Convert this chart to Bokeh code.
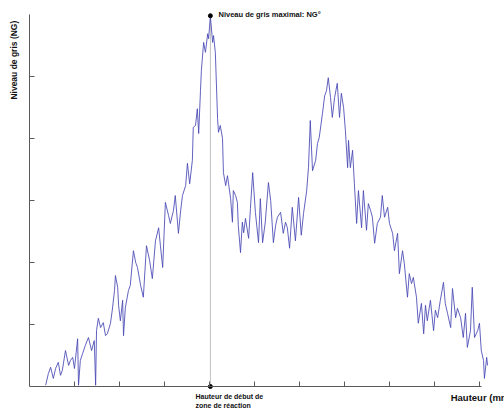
from bokeh.plotting import figure
from bokeh.models import Label, FixedTicker, Range1d
from bokeh.embed import file_html
from bokeh.resources import INLINE

# Height (mm, arbitrary scale) and grey level (NG, arbitrary scale)
hauteur = [3.6, 4.2, 4.7, 5.3, 5.8, 6.4, 6.9, 7.3, 8.0, 8.7, 9.1, 9.6, 10.0, 10.7, 10.9, 11.3, 11.8, 12.4, 13.1, 13.8,
           14.4, 14.7, 14.9, 15.3, 15.8, 16.4, 16.9, 17.3, 18.0, 18.4, 18.9, 19.1, 19.6, 19.8, 20.2, 20.7, 20.9, 21.3, 22.0, 22.4,
           23.1, 23.6, 24.0, 24.7, 25.3, 26.0, 26.7, 27.3, 28.0, 28.7, 29.1, 29.6, 30.2, 30.9, 31.3, 32.0, 32.4, 33.1, 33.6, 34.0,
           34.7, 35.1, 35.6, 36.2, 36.4, 36.9, 37.3, 37.6, 38.0, 38.2, 38.7, 39.1, 39.6, 39.8, 40.2, 40.7, 40.9, 41.3, 41.8, 42.0,
           42.4, 42.9, 43.1, 43.6, 44.0, 44.7, 45.1, 45.3, 45.8, 46.2, 46.4, 46.9, 47.3, 47.6, 48.0, 48.7, 49.1, 49.6, 50.2, 50.9,
           51.3, 51.8, 52.4, 53.1, 53.6, 54.2, 54.7, 55.1, 55.8, 56.4, 56.9, 57.3, 57.8, 58.4, 59.1, 59.8, 60.4, 60.9, 61.6, 62.0,
           62.4, 62.9, 63.6, 64.0, 64.4, 65.1, 65.6, 66.0, 66.4, 66.9, 67.3, 67.8, 68.4, 68.9, 69.3, 69.8, 70.2, 70.7, 70.9, 71.3,
           71.8, 72.2, 72.7, 73.1, 73.8, 74.2, 74.9, 75.3, 75.8, 76.2, 76.7, 77.3, 78.0, 78.4, 78.9, 79.6, 80.0, 80.7, 81.1, 81.8,
           82.2, 82.9, 83.3, 84.0, 84.4, 84.9, 85.3, 86.0, 86.4, 87.1, 87.6, 88.0, 88.4, 89.1, 89.8, 90.2, 90.7, 91.3, 92.0, 92.4,
           92.9, 93.6, 94.0, 94.7, 95.1, 95.8, 96.4, 96.9, 97.3, 98.0, 98.4, 98.9, 99.6, 100.0, 100.4, 100.9, 101.1, 101.6, 101.8]
niveau_gris = [2, 21, 31, 13, 29, 39, 18, 26, 58, 34, 42, 47, 29, 77, 2, 42, 53, 66, 79, 58,
               74, 2, 90, 110, 95, 103, 82, 85, 102, 123, 155, 179, 160, 131, 106, 139, 82, 127, 155, 163,
               219, 200, 192, 163, 144, 227, 203, 174, 235, 256, 227, 192, 297, 276, 263, 284, 308, 247, 284, 308,
               324, 360, 327, 365, 418, 421, 448, 408, 477, 510, 555, 539, 569, 561, 597, 555, 566, 539, 432, 410,
               421, 400, 345, 324, 340, 303, 265, 316, 308, 297, 260, 216, 265, 248, 271, 239, 287, 345, 281, 232,
               303, 232, 265, 329, 300, 232, 260, 273, 281, 247, 265, 256, 223, 289, 235, 305, 244, 279, 316, 353,
               429, 348, 365, 392, 402, 440, 469, 477, 498, 466, 434, 466, 489, 434, 473, 450, 413, 353, 397, 353,
               381, 327, 263, 316, 256, 316, 252, 295, 284, 273, 231, 263, 273, 308, 273, 289, 263, 247, 219, 247,
               182, 219, 198, 144, 182, 166, 176, 144, 102, 134, 85, 131, 106, 139, 90, 123, 111, 139, 168, 134,
               118, 95, 158, 111, 126, 111, 79, 118, 63, 90, 160, 79, 90, 102, 58, 42, 13, 47, 34]

x_ticks = [10, 20, 30, 40, 50, 60, 70, 80, 90, 100]
y_ticks = [100, 200, 300, 400, 500]
x_max_ng = 40.2      # height of the maximal grey level
y_max_ng = 598

p = figure(width=504, height=408, output_backend="svg", toolbar_location=None,
           x_range=Range1d(-6.44, 105.56), y_range=Range1d(-35.5, 622.6),
           min_border_left=0, min_border_right=0, min_border_top=0, min_border_bottom=0)
p.grid.visible = False
p.outline_line_color = None
p.background_fill_color = "white"

for ax in (p.xaxis, p.yaxis):
    ax.fixed_location = 0
    ax.major_label_text_font_size = "0px"
    ax.major_label_standoff = 0
    ax.major_tick_in = 5
    ax.major_tick_out = 0
    ax.minor_tick_line_color = None
    ax.axis_line_color = "#5a5a5a"
    ax.major_tick_line_color = "#5a5a5a"
p.xaxis.ticker = FixedTicker(ticks=x_ticks)
p.yaxis.ticker = FixedTicker(ticks=y_ticks)
p.xaxis.bounds = (0, 100.4)
p.yaxis.bounds = (0, 600)

p.segment(x0=[x_max_ng], y0=[0], x1=[x_max_ng], y1=[y_max_ng], line_color="#c0c0c0", line_width=1)
p.line(hauteur, niveau_gris, line_color="#4646b4", line_width=1, line_alpha=0.85)
p.scatter([x_max_ng, x_max_ng], [y_max_ng, 0], size=4, color="black")

font = "Liberation Sans"
p.add_layout(Label(x=42.0, y=600, text="Niveau de gris maximal: NG°",
                   text_font=font, text_font_style="bold", text_font_size="7.5px",
                   text_baseline="middle", text_color="#111111"))
p.add_layout(Label(x=-3.33, y=590, angle=1.5708,
                   text="Niveau de gris (NG)", text_font=font, text_font_style="bold",
                   text_font_size="8.5px", text_align="right", text_baseline="middle", text_color="#111111"))
p.add_layout(Label(x=93.6, y=-17.7,
                   text="Hauteur (mm)", text_font=font, text_font_style="bold",
                   text_font_size="9.5px", text_baseline="middle", text_color="#111111"))
p.add_layout(Label(x=36.9, y=-11,
                   text="Hauteur de début de\nzone de réaction", text_font=font, text_font_style="bold",
                   text_font_size="7px", text_baseline="top", text_color="#111111"))

open("out.html", "w").write(file_html(p, INLINE))
